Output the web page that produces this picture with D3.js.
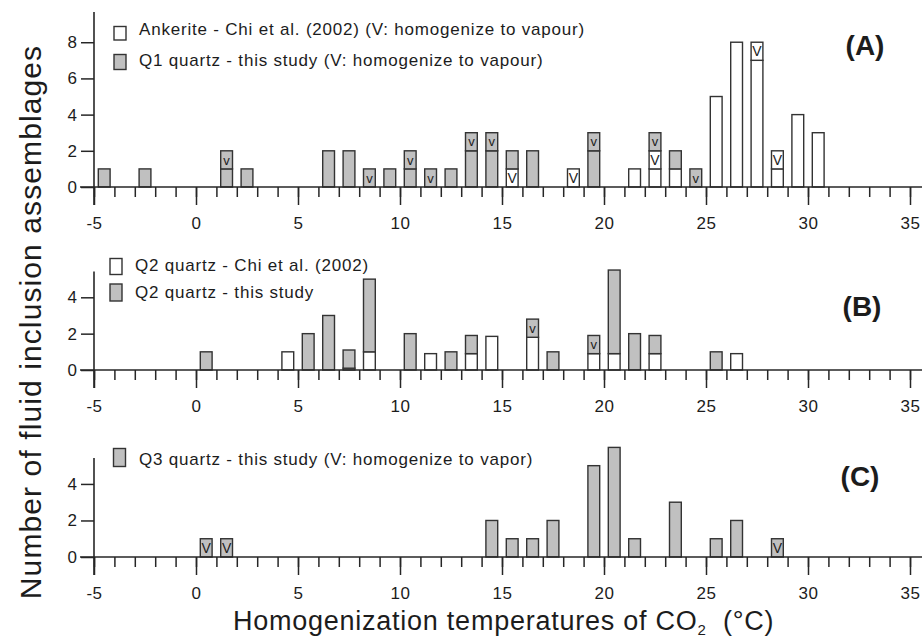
<!DOCTYPE html>
<html><head><meta charset="utf-8">
<script src="https://cdn.jsdelivr.net/npm/d3@7"></script>
<style>
body{margin:0;background:#fff}
svg{display:block}
text{font-family:"Liberation Sans",Arial,Helvetica,sans-serif;fill:#1c1c1c}
</style>
</head><body>
<svg id="chart" width="922" height="639"></svg>
<script>
// ---------- DATA ----------
const xMajorTicks = [-5, 0, 5, 10, 15, 20, 25, 30, 35];
const xMinorTicks = [-5,-4,-3,-2,-1,0,1,2,3,4,5,6,7,8,9,10,11,12,13,14,15,16,17,18,19,20,21,22,23,24,25,26,27,28,29,30,31,32,33,34,35];
const yTicksA = [0, 2, 4, 6, 8];
const yTicksB = [0, 2, 4];
const yTicksC = [0, 2, 4];

// Panel A (bin centres, °C)
const binsA = [-4.5,-2.5,1.5,2.5,6.5,7.5,8.5,9.5,10.5,11.5,12.5,13.5,14.5,15.5,16.5,18.5,19.5,21.5,22.5,23.5,24.5,25.5,26.5,27.5,28.5,29.5,30.5];
const ankeriteA    = [0,0,0,0,0,0,0,0,0,0,0,0,0,0,0,0,0,1,1,1,0,5,8,7,1,4,3];
const ankeriteVapA = [0,0,0,0,0,0,0,0,0,0,0,0,0,1,0,1,0,0,1,0,0,0,0,1,1,0,0];
const q1A          = [1,1,1,1,2,2,0,1,1,0,1,2,2,1,2,0,2,0,0,1,0,0,0,0,0,0,0];
const q1VapA       = [0,0,1,0,0,0,1,0,1,1,0,1,1,0,0,0,1,0,1,0,1,0,0,0,0,0,0];

// Panel B
const binsB  = [0.5,4.5,5.5,6.5,7.5,8.5,10.5,11.5,12.5,13.5,14.5,16.5,17.5,19.5,20.5,21.5,22.5,25.5,26.5];
const chiQ2B = [0,1,0,0,0.1,1,0,0.9,0,0.9,1.85,1.8,0,0.9,0.9,0,0.9,0,0.9];
const q2B    = [1,0,2,3,1,4,2,0,1,1,0,0,1,0,4.6,2,1,1,0];
const q2VapB = [0,0,0,0,0,0,0,0,0,0,0,1,0,1,0,0,0,0,0];

// Panel C
const binsC  = [0.5,1.5,14.5,15.5,16.5,17.5,19.5,20.5,21.5,23.5,25.5,26.5,28.5];
const q3C    = [0,0,2,1,1,2,5,6,1,3,1,2,0];
const q3VapC = [1,1,0,0,0,0,0,0,0,0,0,0,1];

const legendA = ["Ankerite - Chi et al. (2002) (V: homogenize to vapour)", "Q1 quartz - this study (V: homogenize to vapour)"];
const legendB = ["Q2 quartz - Chi et al. (2002)", "Q2 quartz - this study"];
const legendC = ["Q3 quartz - this study (V: homogenize to vapor)"];

// ---------- STYLE / LAYOUT ----------
const WHITE = "#ffffff", GRAY = "#c0c0c0", INK = "#262626";
const svg = d3.select("#chart");
const x = d3.scaleLinear().domain([-5, 35]).range([94, 910]);
const barW = 11.8;
const FS = 17, LS = "0.8px";

const panels = [
  { name: "(A)", base: 187, top: 12, yMax: 9.67, yTicks: yTicksA, bins: binsA,
    series: [ {v: ankeriteA, fill: WHITE}, {v: ankeriteVapA, fill: WHITE, lab: "V", fs: 14},
              {v: q1A, fill: GRAY}, {v: q1VapA, fill: GRAY, lab: "v", fs: 13} ],
    legend: [ {t: legendA[0], fill: WHITE, bx: 114, by: 26.5, bh: 13.5, tx: 139, ty: 35},
              {t: legendA[1], fill: GRAY,  bx: 114, by: 54.5, bh: 15,   tx: 139, ty: 66} ],
    tag: {x: 865, y: 55} },
  { name: "(B)", base: 370, top: 271.5, yMax: 5.42, yTicks: yTicksB, bins: binsB,
    series: [ {v: chiQ2B, fill: WHITE}, {v: q2B, fill: GRAY}, {v: q2VapB, fill: GRAY, lab: "v", fs: 13} ],
    legend: [ {t: legendB[0], fill: WHITE, bx: 110, by: 258.5, bh: 16, tx: 135, ty: 271},
              {t: legendB[1], fill: GRAY,  bx: 110, by: 284, bh: 17, tx: 135, ty: 298} ],
    tag: {x: 862, y: 316} },
  { name: "(C)", base: 557, top: 458, yMax: 5.42, yTicks: yTicksC, bins: binsC,
    series: [ {v: q3C, fill: GRAY}, {v: q3VapC, fill: GRAY, lab: "V", fs: 14} ],
    legend: [ {t: legendC[0], fill: GRAY, bx: 113.5, by: 448.5, bh: 18, tx: 139, ty: 465} ],
    tag: {x: 860, y: 486} }
];

panels.forEach(p => {
  const y = d3.scaleLinear().domain([0, p.yMax]).range([p.base, p.top]);
  const g = svg.append("g");

  // bars (stacked segments)
  p.bins.forEach((b, i) => {
    let cum = 0;
    p.series.forEach(s => {
      const val = s.v[i];
      if (val > 0) {
        const y0 = cum, y1 = cum + val;
        g.append("rect")
          .attr("x", x(b) - barW / 2).attr("width", barW)
          .attr("y", y(y1)).attr("height", y(y0) - y(y1))
          .attr("fill", s.fill).attr("stroke", "#333").attr("stroke-width", 1.4);
        if (s.lab) {
          g.append("text").attr("x", x(b)).attr("y", (y(y0) + y(y1)) / 2)
            .attr("dy", "0.36em").attr("text-anchor", "middle")
            .attr("font-size", s.fs).text(s.lab);
        }
        cum = y1;
      }
    });
  });

  // x axis: minor ticks (no labels) + major ticks (labelled)
  const minor = d3.axisBottom(x).tickValues(xMinorTicks).tickSize(10).tickFormat(() => "");
  const major = d3.axisBottom(x).tickValues(xMajorTicks).tickSize(18).tickPadding(12)
    .tickFormat(d => d < 0 ? "-" + Math.abs(d) : String(d));
  const gMin = g.append("g").attr("transform", `translate(0,${p.base})`).call(minor);
  gMin.select(".domain").remove();
  gMin.selectAll("text").remove();
  gMin.selectAll("line").attr("stroke", INK).attr("stroke-width", 1.5);
  const gMaj = g.append("g").attr("transform", `translate(0,${p.base})`).call(major);
  gMaj.select(".domain").remove();
  gMaj.selectAll("line").attr("stroke", INK).attr("stroke-width", 1.5);
  gMaj.selectAll("text").attr("font-size", FS).attr("fill", "#1c1c1c").attr("letter-spacing", "0.5px")
    .style("font-family", '"Liberation Sans",Arial,sans-serif');
  g.append("line").attr("x1", 80).attr("x2", 922).attr("y1", p.base).attr("y2", p.base)
    .attr("stroke", INK).attr("stroke-width", 1.6);

  // y axis
  const ya = d3.axisLeft(y).tickValues(p.yTicks).tickSize(13).tickPadding(4).tickFormat(d3.format("d"));
  const gy = g.append("g").attr("transform", `translate(${x(-5)},0)`).call(ya);
  gy.select(".domain").remove();
  gy.selectAll("line").attr("stroke", INK).attr("stroke-width", 1.5);
  gy.selectAll("text").attr("font-size", FS).attr("fill", "#1c1c1c")
    .style("font-family", '"Liberation Sans",Arial,sans-serif');
  g.append("line").attr("x1", x(-5)).attr("x2", x(-5)).attr("y1", p.top).attr("y2", p.base + 18)
    .attr("stroke", INK).attr("stroke-width", 1.6);

  // legend
  p.legend.forEach(l => {
    g.append("rect").attr("x", l.bx).attr("y", l.by).attr("width", 12).attr("height", l.bh)
      .attr("fill", l.fill).attr("stroke", "#333").attr("stroke-width", 1.4);
    g.append("text").attr("x", l.tx).attr("y", l.ty).attr("font-size", FS)
      .attr("letter-spacing", LS).text(l.t);
  });

  // panel tag
  g.append("text").attr("x", p.tag.x).attr("y", p.tag.y).attr("text-anchor", "middle")
    .attr("font-size", 28).attr("font-weight", "bold").text(p.name);
});

// axis titles
svg.append("text").attr("transform", "translate(41,322) rotate(-90)")
  .attr("text-anchor", "middle").attr("font-size", 30).attr("letter-spacing", "1.1px")
  .text("Number of fluid inclusion assemblages");

const xt = svg.append("text").attr("x", 233).attr("y", 630).attr("font-size", 27).attr("letter-spacing", "0.75px");
xt.append("tspan").text("Homogenization temperatures of CO");
xt.append("tspan").attr("font-size", 15).attr("dy", 5).text("2");
xt.append("tspan").attr("dy", -5).text("\u00a0 (\u00b0C)");
</script>
</body></html>
